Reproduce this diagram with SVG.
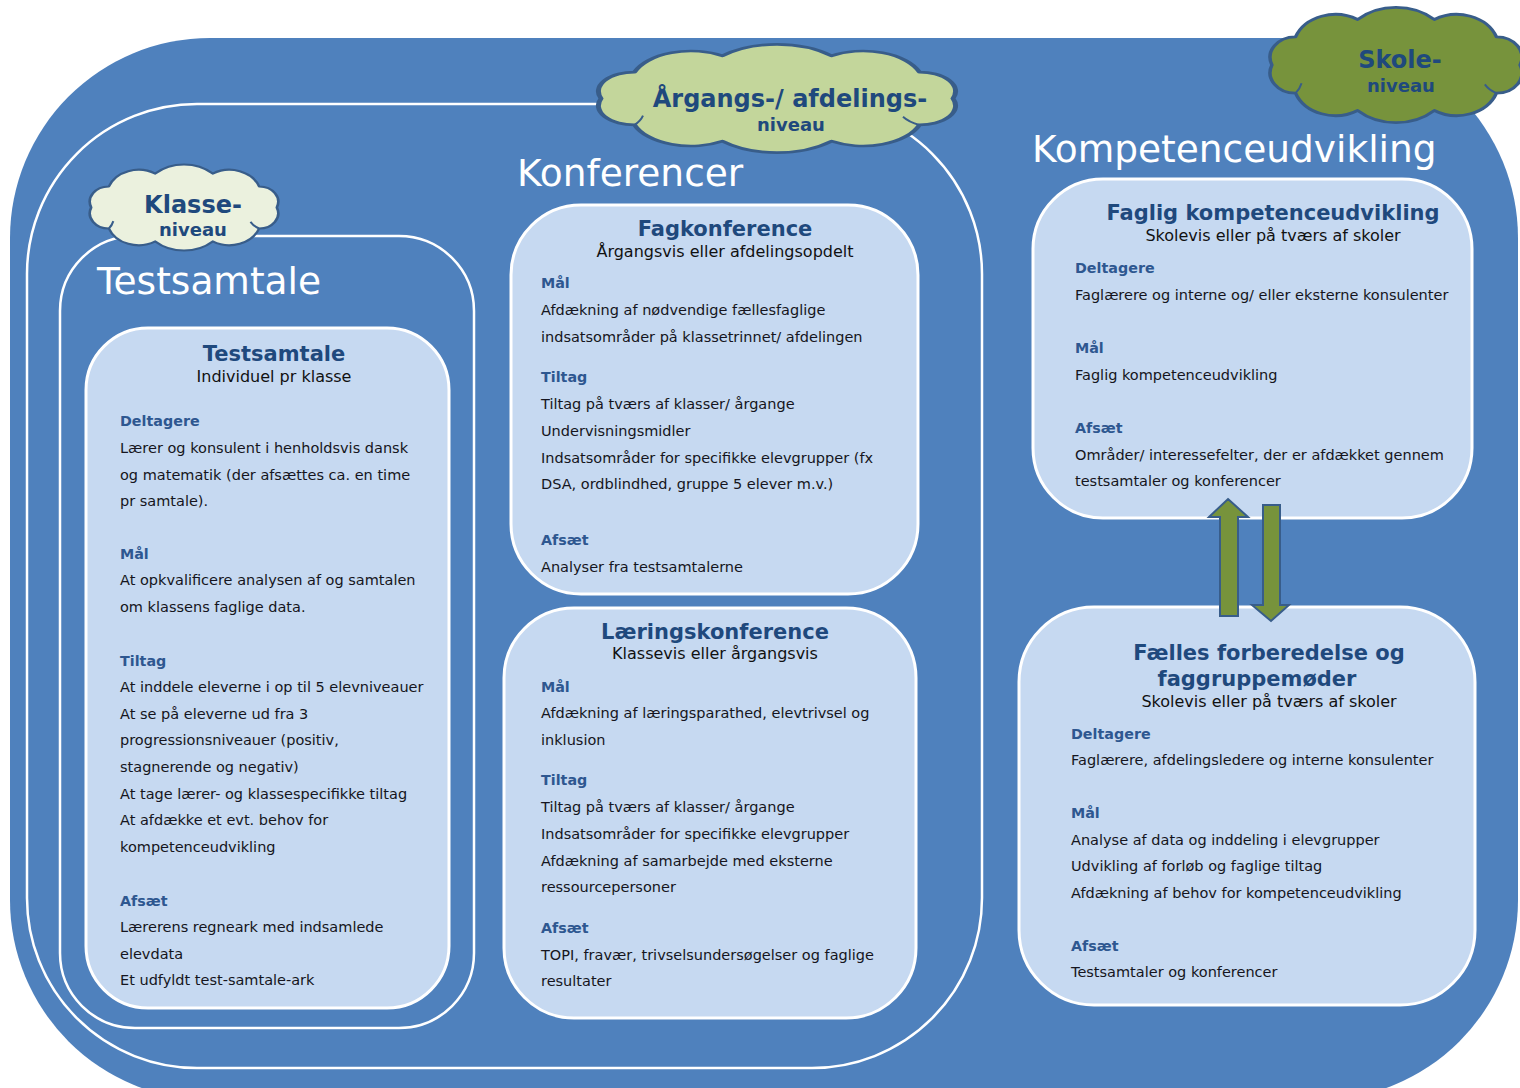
<svg xmlns="http://www.w3.org/2000/svg" width="1520" height="1088" viewBox="0 0 1520 1088">
<style>
text{font-family:"DejaVu Sans",Verdana,sans-serif}
.big{font-size:37.5px;fill:#ffffff}
.h{font-size:21px;font-weight:bold;fill:#1F497D;text-anchor:middle}
.sub{font-size:16px;fill:#111111;text-anchor:middle}
.lab{font-size:14.3px;font-weight:bold;fill:#2E5790}
.b{font-size:14.5px;fill:#151520}
.c1{font-size:24px;font-weight:bold;fill:#1F497D;text-anchor:middle}
.c2{font-size:18px;font-weight:bold;fill:#1F497D;text-anchor:middle}
.box{fill:#C6D9F1;stroke:#ffffff;stroke-width:3}
.frame{fill:none;stroke:#ffffff;stroke-width:2.5}
.cloud{stroke:#385D8A;stroke-width:2.5;stroke-linejoin:round}
.curl{fill:none;stroke:#385D8A;stroke-width:2}
.arr{fill:#77933C;stroke:#385D8A;stroke-width:2}
</style>
<defs>
<path id="cloudShape" d="M12,50 A18,18 0 0 1 28.8,25.3 A30,30 0 0 1 72.8,10.1 A40,40 0 0 1 127.2,10.1 A30,30 0 0 1 171.2,25.3 A18,18 0 0 1 188,50 A18,18 0 0 1 171.2,74.7 A30,30 0 0 1 127.2,89.9 A40,40 0 0 1 72.8,89.9 A30,30 0 0 1 28.8,74.7 A18,18 0 0 1 12,50 Z"/>
</defs>
<rect width="1520" height="1088" fill="#ffffff"/>
<!-- background containers -->
<rect x="10" y="38" width="1508" height="1062" rx="200" fill="#4F81BD"/>
<rect class="frame" x="27" y="104" width="955" height="964" rx="170"/>
<rect class="frame" x="60" y="236" width="414" height="792" rx="75"/>
<text class="big" x="97" y="294">Testsamtale</text>
<text class="big" x="517" y="186">Konferencer</text>
<text class="big" x="1032" y="162">Kompetenceudvikling</text>

<!-- clouds -->
<g id="cloud-aargang">
<g transform="translate(577,45) scale(2.0,1.07)">
<use href="#cloudShape" class="cloud" fill="#C3D69B" vector-effect="non-scaling-stroke"/>
<path class="curl" vector-effect="non-scaling-stroke" d="M28.8,74.7 A22,22 0 0 0 33,66 M171.2,74.7 A20,20 0 0 1 163,67"/>
</g>
<text class="c1" x="790" y="107">Årgangs-/ afdelings-</text>
<text class="c2" x="791" y="131">niveau</text>
</g>
<g id="cloud-skole">
<g transform="translate(1255,8) scale(1.41,1.14)">
<use href="#cloudShape" class="cloud" fill="#77933C" vector-effect="non-scaling-stroke"/>
<path class="curl" vector-effect="non-scaling-stroke" d="M28.8,74.7 A22,22 0 0 0 33,66 M171.2,74.7 A20,20 0 0 1 163,67"/>
</g>
<text class="c1" x="1400" y="68">Skole-</text>
<text class="c2" x="1401" y="92">niveau</text>
</g>
<g id="cloud-klasse">
<g transform="translate(78.5,165) scale(1.055,0.85)">
<use href="#cloudShape" class="cloud" fill="#EBF1DE" vector-effect="non-scaling-stroke"/>
<path class="curl" vector-effect="non-scaling-stroke" d="M28.8,74.7 A22,22 0 0 0 33,66 M171.2,74.7 A20,20 0 0 1 163,67"/>
</g>
<text class="c1" x="193" y="213">Klasse-</text>
<text class="c2" x="193" y="236">niveau</text>
</g>

<!-- Testsamtale box -->
<g id="node-testsamtale">
<rect class="box" x="86" y="328" width="363" height="680" rx="62"/>
<text class="h" x="274" y="361">Testsamtale</text>
<text class="sub" x="274" y="382">Individuel pr klasse</text>
<text class="lab" x="120" y="426">Deltagere</text>
<text class="b" x="120" y="453">Lærer og konsulent i henholdsvis dansk</text>
<text class="b" x="120" y="480">og matematik (der afsættes ca. en time</text>
<text class="b" x="120" y="506">pr samtale).</text>
<text class="lab" x="120" y="559">Mål</text>
<text class="b" x="120" y="585">At opkvalificere analysen af og samtalen</text>
<text class="b" x="120" y="612">om klassens faglige data.</text>
<text class="lab" x="120" y="666">Tiltag</text>
<text class="b" x="120" y="692">At inddele eleverne i op til 5 elevniveauer</text>
<text class="b" x="120" y="719">At se på eleverne ud fra 3</text>
<text class="b" x="120" y="745">progressionsniveauer (positiv,</text>
<text class="b" x="120" y="772">stagnerende og negativ)</text>
<text class="b" x="120" y="799">At tage lærer- og klassespecifikke tiltag</text>
<text class="b" x="120" y="825">At afdække et evt. behov for</text>
<text class="b" x="120" y="852">kompetenceudvikling</text>
<text class="lab" x="120" y="906">Afsæt</text>
<text class="b" x="120" y="932">Lærerens regneark med indsamlede</text>
<text class="b" x="120" y="959">elevdata</text>
<text class="b" x="120" y="985">Et udfyldt test-samtale-ark</text>
</g>

<!-- Fagkonference -->
<g id="node-fagkonference">
<rect class="box" x="511" y="205" width="407" height="389" rx="70"/>
<text class="h" x="725" y="236">Fagkonference</text>
<text class="sub" x="725" y="257">Årgangsvis eller afdelingsopdelt</text>
<text class="lab" x="541" y="288">Mål</text>
<text class="b" x="541" y="315">Afdækning af nødvendige fællesfaglige</text>
<text class="b" x="541" y="342">indsatsområder på klassetrinnet/ afdelingen</text>
<text class="lab" x="541" y="382">Tiltag</text>
<text class="b" x="541" y="409">Tiltag på tværs af klasser/ årgange</text>
<text class="b" x="541" y="436">Undervisningsmidler</text>
<text class="b" x="541" y="463">Indsatsområder for specifikke elevgrupper (fx</text>
<text class="b" x="541" y="489">DSA, ordblindhed, gruppe 5 elever m.v.)</text>
<text class="lab" x="541" y="545">Afsæt</text>
<text class="b" x="541" y="572">Analyser fra testsamtalerne</text>
</g>

<!-- Læringskonference -->
<g id="node-laeringskonference">
<rect class="box" x="504" y="608" width="412" height="410" rx="70"/>
<text class="h" x="715" y="639">Læringskonference</text>
<text class="sub" x="715" y="659">Klassevis eller årgangsvis</text>
<text class="lab" x="541" y="692">Mål</text>
<text class="b" x="541" y="718">Afdækning af læringsparathed, elevtrivsel og</text>
<text class="b" x="541" y="745">inklusion</text>
<text class="lab" x="541" y="785">Tiltag</text>
<text class="b" x="541" y="812">Tiltag på tværs af klasser/ årgange</text>
<text class="b" x="541" y="839">Indsatsområder for specifikke elevgrupper</text>
<text class="b" x="541" y="866">Afdækning af samarbejde med eksterne</text>
<text class="b" x="541" y="892">ressourcepersoner</text>
<text class="lab" x="541" y="933">Afsæt</text>
<text class="b" x="541" y="960">TOPI, fravær, trivselsundersøgelser og faglige</text>
<text class="b" x="541" y="986">resultater</text>
</g>

<!-- Faglig kompetenceudvikling -->
<g id="node-faglig">
<rect class="box" x="1033" y="179" width="439" height="339" rx="70"/>
<text class="h" x="1273" y="220">Faglig kompetenceudvikling</text>
<text class="sub" x="1273" y="241">Skolevis eller på tværs af skoler</text>
<text class="lab" x="1075" y="273">Deltagere</text>
<text class="b" x="1075" y="300">Faglærere og interne og/ eller eksterne konsulenter</text>
<text class="lab" x="1075" y="353">Mål</text>
<text class="b" x="1075" y="380">Faglig kompetenceudvikling</text>
<text class="lab" x="1075" y="433">Afsæt</text>
<text class="b" x="1075" y="460">Områder/ interessefelter, der er afdækket gennem</text>
<text class="b" x="1075" y="486">testsamtaler og konferencer</text>
</g>

<!-- Fælles forberedelse -->
<g id="node-faelles">
<rect class="box" x="1019" y="607" width="456" height="398" rx="75"/>
<text class="h" x="1269" y="660">Fælles forberedelse og</text>
<text class="h" x="1257" y="686">faggruppemøder</text>
<text class="sub" x="1269" y="707">Skolevis eller på tværs af skoler</text>
<text class="lab" x="1071" y="739">Deltagere</text>
<text class="b" x="1071" y="765">Faglærere, afdelingsledere og interne konsulenter</text>
<text class="lab" x="1071" y="818">Mål</text>
<text class="b" x="1071" y="845">Analyse af data og inddeling i elevgrupper</text>
<text class="b" x="1071" y="871">Udvikling af forløb og faglige tiltag</text>
<text class="b" x="1071" y="898">Afdækning af behov for kompetenceudvikling</text>
<text class="lab" x="1071" y="951">Afsæt</text>
<text class="b" x="1071" y="977">Testsamtaler og konferencer</text>
</g>

<!-- connectors -->
<g id="connectors">
<polygon class="arr" points="1228,499 1248,517 1238,517 1238,616 1220,616 1220,517 1209,517"/>
<polygon class="arr" points="1263,505 1280,505 1280,605 1289,605 1271,621 1252,605 1263,605"/>
</g>
</svg>
